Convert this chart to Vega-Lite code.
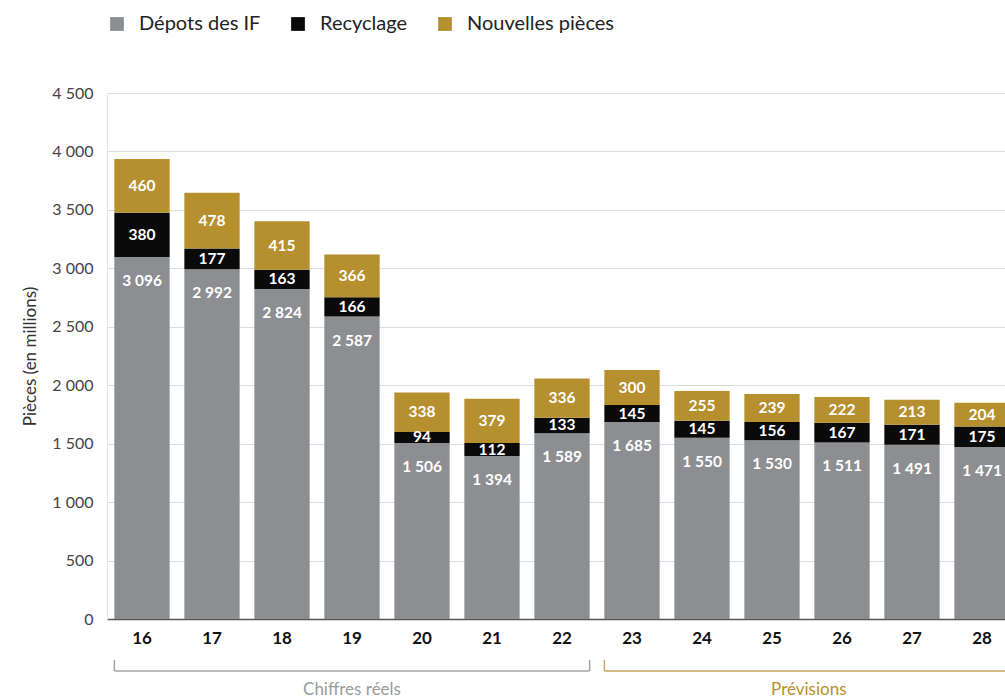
{
  "$schema": "https://vega.github.io/schema/vega-lite/v6.json",
  "width": 910,
  "height": 526,
  "autosize": {"type": "none"},
  "padding": {"left": 107, "top": 93, "right": 0, "bottom": 79},
  "background": "white",
  "config": {
    "font": "Lato",
    "view": {"stroke": null},
    "locale": {"number": {"decimal": ",", "thousands": " ", "grouping": [3], "currency": ["", " €"]}}
  },
  "datasets": {
    "pieces": [
      {"year": "16", "series": "Dépots des IF", "value": 3096},
      {"year": "16", "series": "Recyclage", "value": 380},
      {"year": "16", "series": "Nouvelles pièces", "value": 460},
      {"year": "17", "series": "Dépots des IF", "value": 2992},
      {"year": "17", "series": "Recyclage", "value": 177},
      {"year": "17", "series": "Nouvelles pièces", "value": 478},
      {"year": "18", "series": "Dépots des IF", "value": 2824},
      {"year": "18", "series": "Recyclage", "value": 163},
      {"year": "18", "series": "Nouvelles pièces", "value": 415},
      {"year": "19", "series": "Dépots des IF", "value": 2587},
      {"year": "19", "series": "Recyclage", "value": 166},
      {"year": "19", "series": "Nouvelles pièces", "value": 366},
      {"year": "20", "series": "Dépots des IF", "value": 1506},
      {"year": "20", "series": "Recyclage", "value": 94},
      {"year": "20", "series": "Nouvelles pièces", "value": 338},
      {"year": "21", "series": "Dépots des IF", "value": 1394},
      {"year": "21", "series": "Recyclage", "value": 112},
      {"year": "21", "series": "Nouvelles pièces", "value": 379},
      {"year": "22", "series": "Dépots des IF", "value": 1589},
      {"year": "22", "series": "Recyclage", "value": 133},
      {"year": "22", "series": "Nouvelles pièces", "value": 336},
      {"year": "23", "series": "Dépots des IF", "value": 1685},
      {"year": "23", "series": "Recyclage", "value": 145},
      {"year": "23", "series": "Nouvelles pièces", "value": 300},
      {"year": "24", "series": "Dépots des IF", "value": 1550},
      {"year": "24", "series": "Recyclage", "value": 145},
      {"year": "24", "series": "Nouvelles pièces", "value": 255},
      {"year": "25", "series": "Dépots des IF", "value": 1530},
      {"year": "25", "series": "Recyclage", "value": 156},
      {"year": "25", "series": "Nouvelles pièces", "value": 239},
      {"year": "26", "series": "Dépots des IF", "value": 1511},
      {"year": "26", "series": "Recyclage", "value": 167},
      {"year": "26", "series": "Nouvelles pièces", "value": 222},
      {"year": "27", "series": "Dépots des IF", "value": 1491},
      {"year": "27", "series": "Recyclage", "value": 171},
      {"year": "27", "series": "Nouvelles pièces", "value": 213},
      {"year": "28", "series": "Dépots des IF", "value": 1471},
      {"year": "28", "series": "Recyclage", "value": 175},
      {"year": "28", "series": "Nouvelles pièces", "value": 204}
    ],
    "brackets": [
      {"period": "Chiffres réels", "start": "16", "end": "22"},
      {"period": "Prévisions", "start": "23", "end": "28"}
    ]
  },
  "layer": [
    {
      "data": {"name": "pieces"},
      "transform": [{"calculate": "indexof(['Dépots des IF','Recyclage','Nouvelles pièces'], datum.series)", "as": "ord"}],
      "mark": {"type": "bar"},
      "encoding": {
        "x": {
          "field": "year", "type": "nominal",
          "scale": {"domain": ["16","17","18","19","20","21","22","23","24","25","26","27","28"], "paddingInner": 0.21, "paddingOuter": 0.105},
          "axis": {"title": null, "labelAngle": 0, "labelFontSize": 17, "labelFontWeight": "bold", "labelColor": "#111", "labelPadding": 11, "ticks": false, "domainColor": "#555", "domainWidth": 1.5, "grid": false}
        },
        "y": {
          "field": "value", "type": "quantitative", "aggregate": "sum", "stack": "zero",
          "scale": {"domain": [0, 4500], "nice": false},
          "axis": {"title": "Pièces (en millions)", "titleFontSize": 17, "titleFontWeight": "normal", "titleColor": "#333", "titlePadding": 12, "labelFontSize": 16, "labelColor": "#444", "labelPadding": 14, "ticks": false, "domain": true, "domainColor": "#e6e6e6", "gridColor": "#dddddd", "values": [0,500,1000,1500,2000,2500,3000,3500,4000,4500], "labelExpr": "format(datum.value, ',d')"}
        },
        "color": {
          "field": "series", "type": "nominal",
          "sort": ["Dépots des IF", "Recyclage", "Nouvelles pièces"],
          "scale": {"domain": ["Dépots des IF", "Recyclage", "Nouvelles pièces"], "range": ["#8d8e91", "#0a0a0a", "#b68f2e"]},
          "legend": {"title": null, "orient": "top", "direction": "horizontal", "symbolType": "square", "symbolSize": 190, "symbolStrokeWidth": 0, "labelFontSize": 20, "labelColor": "#222", "labelOffset": 12, "columnPadding": 27, "offset": 59}
        },
        "order": {"field": "ord", "type": "quantitative"}
      }
    },
    {
      "data": {"name": "pieces"},
      "transform": [{"calculate": "indexof(['Dépots des IF','Recyclage','Nouvelles pièces'], datum.series)", "as": "ord"}],
      "mark": {"type": "text", "color": "white", "fontWeight": "bold", "fontSize": 15.5, "baseline": "middle"},
      "encoding": {
        "x": {"field": "year", "type": "nominal"},
        "y": {"field": "value", "type": "quantitative", "aggregate": "sum", "stack": "zero", "bandPosition": 0.5},
        "detail": {"field": "series"},
        "order": {"field": "ord", "type": "quantitative"},
        "text": {"condition": {"test": "datum.series === 'Dépots des IF'", "value": ""}, "field": "value", "type": "quantitative", "aggregate": "sum", "format": ","}
      }
    },
    {
      "data": {"name": "pieces"},
      "transform": [{"filter": "datum.series === 'Dépots des IF'"}],
      "mark": {"type": "text", "color": "white", "fontWeight": "bold", "fontSize": 15.5, "baseline": "middle", "dy": 24},
      "encoding": {
        "x": {"field": "year", "type": "nominal"},
        "y": {"field": "value", "type": "quantitative", "stack": null},
        "text": {"field": "value", "type": "quantitative", "format": ","}
      }
    },
    {
      "data": {"name": "brackets"},
      "mark": {"type": "rule", "strokeWidth": 1.5},
      "encoding": {
        "x": {"field": "start", "type": "nominal", "bandPosition": 0},
        "x2": {"field": "end", "bandPosition": 1},
        "y": {"datum": -445, "type": "quantitative"},
        "stroke": {"field": "period", "type": "nominal", "scale": {"domain": ["Chiffres réels", "Prévisions"], "range": ["#a6a6a6", "#c9a660"]}, "legend": null}
      }
    },
    {
      "data": {"name": "brackets"},
      "mark": {"type": "rule", "strokeWidth": 1.5},
      "encoding": {
        "x": {"field": "start", "type": "nominal", "bandPosition": 0},
        "y": {"datum": -445, "type": "quantitative"},
        "y2": {"datum": -350},
        "stroke": {"field": "period", "type": "nominal", "legend": null}
      }
    },
    {
      "data": {"name": "brackets"},
      "mark": {"type": "rule", "strokeWidth": 1.5},
      "encoding": {
        "x": {"field": "end", "type": "nominal", "bandPosition": 1},
        "y": {"datum": -445, "type": "quantitative"},
        "y2": {"datum": -350},
        "stroke": {"field": "period", "type": "nominal", "legend": null}
      }
    },
    {
      "data": {"name": "brackets"},
      "transform": [{"filter": "datum.period === 'Chiffres réels'"}],
      "mark": {"type": "text", "fontSize": 17, "baseline": "middle"},
      "encoding": {
        "x": {"datum": "19", "type": "nominal", "bandPosition": 0.5},
        "y": {"datum": -607, "type": "quantitative"},
        "text": {"field": "period"},
        "fill": {"field": "period", "type": "nominal", "scale": {"domain": ["Chiffres réels", "Prévisions"], "range": ["#9a9a9a", "#b8902e"]}, "legend": null}
      }
    },
    {
      "data": {"name": "brackets"},
      "transform": [{"filter": "datum.period === 'Prévisions'"}],
      "mark": {"type": "text", "fontSize": 17, "baseline": "middle"},
      "encoding": {
        "x": {"datum": "26", "type": "nominal", "bandPosition": -0.1},
        "y": {"datum": -607, "type": "quantitative"},
        "text": {"field": "period"},
        "fill": {"field": "period", "type": "nominal", "legend": null}
      }
    }
  ]
}
